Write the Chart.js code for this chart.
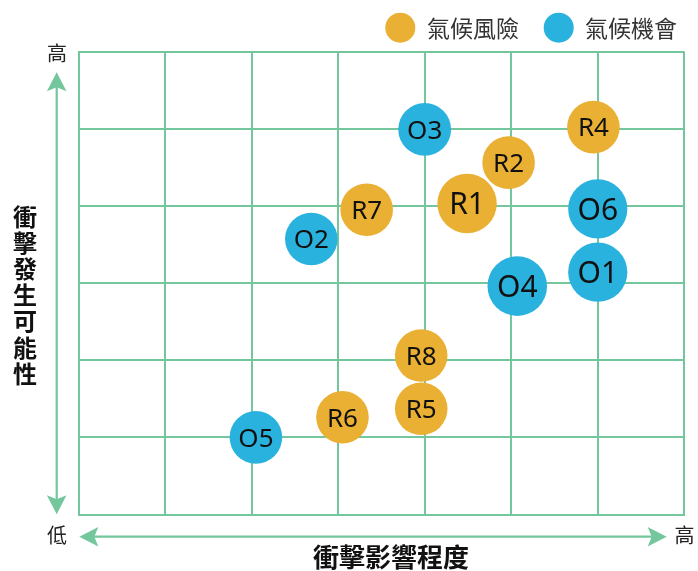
<!DOCTYPE html>
<html>
<head>
<meta charset="utf-8">
<script src="https://cdn.jsdelivr.net/npm/chart.js@4/dist/chart.umd.min.js"></script>
<style>
  html, body { margin: 0; padding: 0; background: #ffffff; }
  #wrap { width: 698px; height: 571px; position: relative; }
</style>
</head>
<body>
<div id="wrap"><canvas id="c" width="698" height="571"></canvas></div>
<script>
// ---- data ----
const seriesNames = ['氣候風險', '氣候機會'];

const riskLabels = ['R1', 'R2', 'R4', 'R5', 'R6', 'R7', 'R8'];
const riskImpact = [4.49, 4.97, 5.95, 3.96, 3.05, 3.33, 3.96];
const riskLikelihood = [4.03, 4.56, 5.02, 1.37, 1.26, 3.95, 2.06];
const riskSize = [29.7, 26.3, 26.3, 26.3, 26.3, 26.3, 26.3];

const oppLabels = ['O1', 'O2', 'O3', 'O4', 'O5', 'O6'];
const oppImpact = [6.0, 2.69, 4.0, 5.07, 2.05, 6.0];
const oppLikelihood = [3.14, 3.57, 4.99, 2.96, 1.0, 3.96];
const oppSize = [29.6, 26.3, 26.4, 29.8, 26.3, 29.6];

const xAxisTitle = '衝擊影響程度';
const yAxisTitle = '衝擊發生可能性';
const highLabel = '高';
const lowLabel = '低';

const xMin = 0, xMax = 7;
const yMin = 0, yMax = 6;

// ---- styles ----
const ORANGE = '#EAB033';
const BLUE = '#2AB2DF';
const GREEN = '#74C69C';

function points(xs, ys, rs) {
  return xs.map((x, i) => ({ x: x, y: ys[i], r: rs[i] }));
}

const datasets = [
  { label: seriesNames[0], names: riskLabels, data: points(riskImpact, riskLikelihood, riskSize),
    backgroundColor: ORANGE, borderWidth: 0, hoverBorderWidth: 0 },
  { label: seriesNames[1], names: oppLabels, data: points(oppImpact, oppLikelihood, oppSize),
    backgroundColor: BLUE, borderWidth: 0, hoverBorderWidth: 0 }
];

function arrowHead(ctx, tx, ty, dx, dy) {
  const L = 19, W = 9.8, N = 4;
  const px = -dy, py = dx;
  const bx = tx - dx * L, by = ty - dy * L;
  ctx.beginPath();
  ctx.moveTo(tx, ty);
  ctx.lineTo(bx + px * W, by + py * W);
  ctx.lineTo(tx - dx * (L - N), ty - dy * (L - N));
  ctx.lineTo(bx - px * W, by - py * W);
  ctx.closePath();
  ctx.fill();
}

const decorPlugin = {
  id: 'decor',
  afterDraw(chart) {
    const ctx = chart.ctx;
    ctx.save();
    // arrows
    ctx.strokeStyle = GREEN;
    ctx.fillStyle = GREEN;
    ctx.lineWidth = 2.2;
    ctx.beginPath();
    ctx.moveTo(56.7, 80); ctx.lineTo(56.7, 506);
    ctx.moveTo(88, 536.7); ctx.lineTo(658, 536.7);
    ctx.stroke();
    arrowHead(ctx, 56.7, 72.3, 0, -1);
    arrowHead(ctx, 56.7, 514.3, 0, 1);
    arrowHead(ctx, 79.3, 536.7, -1, 0);
    arrowHead(ctx, 666.7, 536.7, 1, 0);

    // high / low
    ctx.fillStyle = '#222';
    ctx.font = '20px "Noto Sans CJK TC"';
    ctx.textAlign = 'center';
    ctx.textBaseline = 'middle';
    ctx.fillText(highLabel, 57, 53);
    ctx.fillText(lowLabel, 57, 535);
    ctx.fillText(highLabel, 684.5, 535);

    // axis titles
    ctx.fillStyle = '#111';
    ctx.font = 'bold 26px "Noto Sans CJK TC"';
    ctx.fillText(xAxisTitle, 391, 557);
    ctx.font = 'bold 24px "Noto Sans CJK TC"';
    const chars = Array.from(yAxisTitle);
    const step = 26.2;
    const y0 = 295 - step * (chars.length - 1) / 2;
    chars.forEach((ch, i) => ctx.fillText(ch, 25, y0 + i * step));

    // legend
    const legendItems = [
      { cx: 400.3, tx: 427, color: ORANGE, text: seriesNames[0] },
      { cx: 558.7, tx: 585, color: BLUE, text: seriesNames[1] }
    ];
    ctx.textAlign = 'left';
    ctx.font = '23px "Noto Sans CJK TC"';
    legendItems.forEach(it => {
      ctx.fillStyle = it.color;
      ctx.beginPath();
      ctx.arc(it.cx, 27.7, 15, 0, Math.PI * 2);
      ctx.fill();
      ctx.fillStyle = '#333';
      ctx.fillText(it.text, it.tx, 28);
    });
    ctx.restore();
  },
  afterDatasetsDraw(chart) {
    const ctx = chart.ctx;
    ctx.save();
    ctx.fillStyle = '#111';
    ctx.textAlign = 'center';
    ctx.textBaseline = 'alphabetic';
    chart.data.datasets.forEach((ds, i) => {
      const meta = chart.getDatasetMeta(i);
      meta.data.forEach((el, j) => {
        const big = ds.data[j].r > 28;
        const size = big ? 30 : 26;
        ctx.font = size + 'px "Noto Sans"';
        ctx.fillText(ds.names[j], el.x, el.y + size * 0.357);
      });
    });
    ctx.restore();
  }
};

new Chart(document.getElementById('c'), {
  type: 'bubble',
  data: { datasets: datasets },
  options: {
    responsive: false,
    animation: false,
    events: [],
    layout: { autoPadding: false, padding: { left: 78.5, right: 13.7, top: 51.5, bottom: 56.5 } },
    plugins: {
      legend: { display: false },
      tooltip: { enabled: false }
    },
    scales: {
      x: {
        type: 'linear', min: xMin, max: xMax,
        ticks: { display: false, stepSize: 1 },
        grid: { color: GREEN, lineWidth: 2, drawTicks: false },
        border: { display: true, color: GREEN, width: 2 }
      },
      y: {
        type: 'linear', min: yMin, max: yMax,
        ticks: { display: false, stepSize: 1 },
        grid: { color: GREEN, lineWidth: 2, drawTicks: false },
        border: { display: true, color: GREEN, width: 2 }
      }
    }
  },
  plugins: [decorPlugin]
});
</script>
</body>
</html>
